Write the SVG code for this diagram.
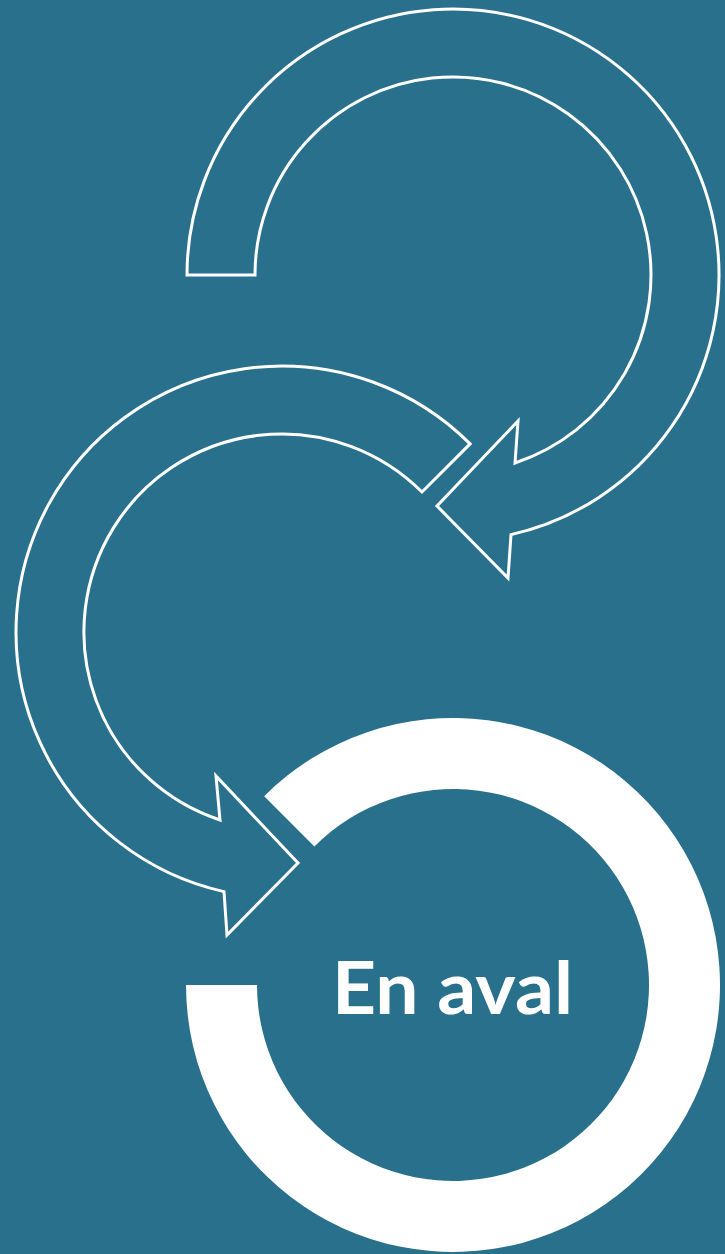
<svg xmlns="http://www.w3.org/2000/svg" width="725" height="1254" viewBox="0 0 725 1254">
<style>
.bg{fill:#29708C}
.outline{fill:none;stroke:#FFFFFF;stroke-width:3;stroke-linejoin:miter;stroke-miterlimit:10}
.solid{fill:#FFFFFF}
.label{font-family:Lato,"Open Sans","Liberation Sans",sans-serif;font-weight:700;font-size:72px;fill:#FFFFFF}
</style>
<rect class="bg" x="0" y="0" width="725" height="1254"/>
<g id="connectors">
<path id="arrow-top" class="outline" d="M 187,275 A 266 266 0 1 1 511,534.6 L 508,578 L 437,506 L 518,421 L 515,463 A 198 198 0 1 0 255,275 Z"/>
<path id="arrow-middle" class="outline" d="M 470.1,443.9 A 266 266 0 1 0 224,891.6 L 227,935 L 298,863 L 216,776 L 220,820 A 198 198 0 1 1 422,492 Z"/>
</g>
<g id="node-en-aval">
<path class="solid" d="M 186,985 A 267 267 0 1 0 264.2,796.2 L 314.4,846.4 A 196 196 0 1 1 257,985 Z"/>
<text class="label" x="332" y="1014" textLength="241" lengthAdjust="spacingAndGlyphs">En aval</text>
</g>
</svg>
